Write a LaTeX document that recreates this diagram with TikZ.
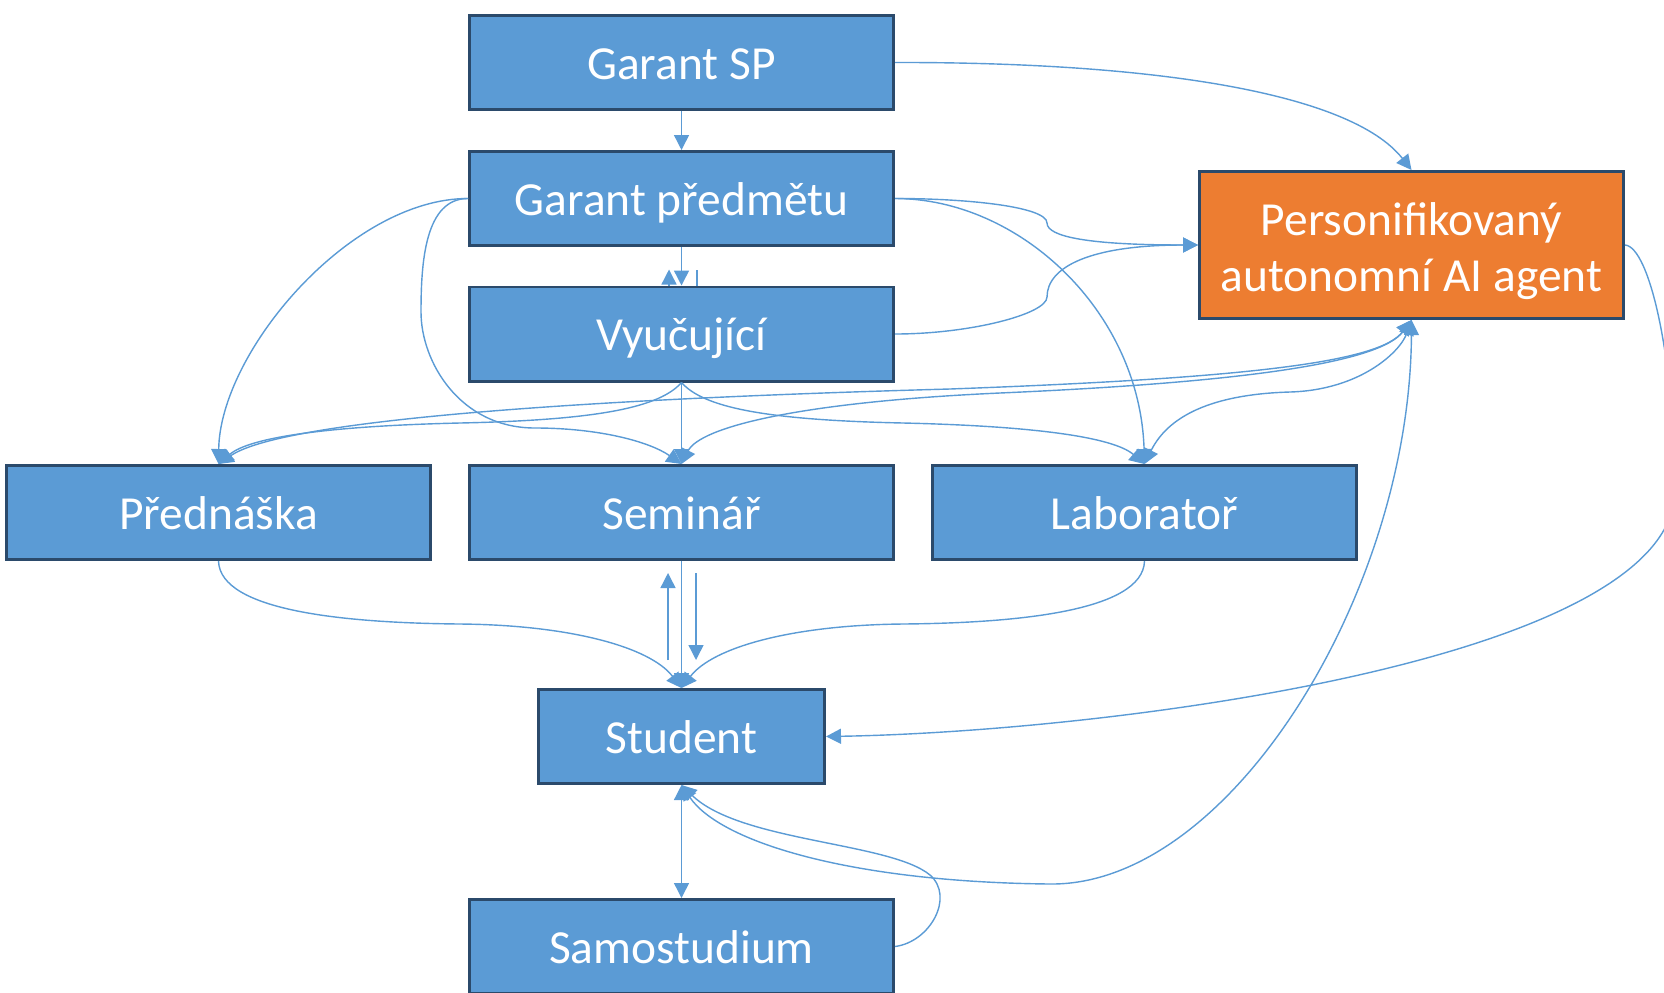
\documentclass[tikz,border=0pt]{standalone}
\usepackage{fontspec}
\setmainfont{Carlito}
\usetikzlibrary{arrows.meta}
\definecolor{boxblue}{HTML}{5B9BD5}
\definecolor{boxedge}{HTML}{2B4A6B}
\definecolor{agentorange}{HTML}{ED7D31}
\tikzstyle{box}=[draw=boxedge, fill=boxblue, line width=0.85pt, minimum width=4.24cm, minimum height=0.94cm, inner sep=0pt, text=white, font={\fontsize{13.5}{16}\selectfont}, align=center, text height=9.4pt, text depth=0pt]
\tikzstyle{agentbox}=[box, fill=agentorange, minimum height=1.47cm, text height=26.6pt, text depth=0pt]
\tikzstyle{link}=[draw=boxblue, line width=0.4pt, >={Triangle[length=1.5mm, width=1.5mm]}]

\begin{document}
\begin{tikzpicture}
	\useasboundingbox (0, 0) rectangle (16.64, 9.92);
	\clip (0, 0) rectangle (16.64, 9.92);

	\node[box] (gsp) at (6.815, 9.295) {Garant SP};
	\node[box] (gp) at (6.815, 7.935) {Garant předmětu};
	\node[box] (vyu) at (6.815, 6.58) {Vyučující};
	\node[agentbox] (agent) at (14.115, 7.47) {Personifikovaný\\autonomní AI agent};
	\node[box] (pred) at (2.185, 4.795) {Přednáška};
	\node[box] (sem) at (6.815, 4.795) {Seminář};
	\node[box] (lab) at (11.445, 4.795) {Laboratoř};
	\node[box, minimum width=2.86cm] (stud) at (6.815, 2.555) {Student};
	\node[box] (samo) at (6.815, 0.455) {Samostudium};

	% garant SP
	\draw[link, ->] (gsp.south) -- (gp.north);
	\draw[link, ->] (gsp.east) .. controls (11.5, 9.30) and (13.5, 9.0) .. (agent.north);

	% garant predmetu
	\draw[link, ->] (gp.south) -- (vyu.north);
	\draw[link, ->] ([xshift=-1.25mm]vyu.north) -- ++(0, 0.16);
	\draw[link] ([xshift=1.55mm]vyu.north) -- ++(0, 0.16);
	\draw[link, ->] (gp.east) .. controls (9.7, 7.935) and (10.47, 7.85) .. (10.47, 7.69) .. controls (10.47, 7.55) and (10.9, 7.47) .. (agent.west);
	\draw[link, ->] (gp.east) .. controls (10.2, 7.935) and (11.4, 6.8) .. (lab.north);
	\draw[link, ->] (gp.west) .. controls (3.5, 7.935) and (2.2, 6.4) .. (pred.north);
	\draw[link, ->] (gp.west) .. controls (4.25, 7.935) and (4.21, 7.3) .. (4.21, 6.8) .. controls (4.21, 6.3) and (4.6, 5.64) .. (5.35, 5.64) .. controls (6.0, 5.64) and (6.5, 5.5) .. (sem.north);

	% vyucujici
	\draw[link, ->] (vyu.east) .. controls (9.7, 6.58) and (10.47, 6.78) .. (10.47, 6.95) .. controls (10.47, 7.25) and (10.9, 7.47) .. (agent.west);
	\draw[link, ->] (vyu.south) -- (sem.north);
	\draw[link, ->] (vyu.south) .. controls (6.6, 5.85) and (6.0, 5.72) .. (4.6, 5.69) .. controls (3.3, 5.66) and (2.5, 5.55) .. (pred.north);
	\draw[link, ->] (vyu.south) .. controls (7.03, 5.85) and (7.63, 5.72) .. (9.03, 5.69) .. controls (10.33, 5.66) and (11.13, 5.55) .. (lab.north);

	% agent
	\draw[link, <->] (pred.north) .. controls (2.8, 5.7) and (5.5, 5.92) .. (9.5, 6.03) .. controls (12.5, 6.14) and (13.8, 6.3) .. (agent.south);
	\draw[link, <->] (sem.north) .. controls (7.0, 5.65) and (8.0, 5.9) .. (10.0, 5.99) .. controls (12.5, 6.1) and (13.8, 6.3) .. (agent.south);
	\draw[link, <->] (lab.north) .. controls (11.7, 5.8) and (12.2, 5.98) .. (12.9, 6.0) .. controls (13.6, 6.02) and (14.0, 6.4) .. (agent.south);
	\draw[link, <->] (stud.south) .. controls (7.2, 1.5) and (8.5, 1.1) .. (10.5, 1.08) .. controls (12.3, 1.06) and (14.1, 4.0) .. (agent.south);
	\draw[link, ->] (agent.east) .. controls (16.5, 7.45) and (16.75, 6.3) .. (16.75, 5.0) .. controls (16.7, 3.3) and (11.0, 2.6) .. (stud.east);

	% vyuka -> student
	\draw[link, ->] (pred.south) .. controls (2.2, 3.8) and (3.5, 3.69) .. (4.6, 3.68) .. controls (5.7, 3.67) and (6.5, 3.45) .. (stud.north);
	\draw[link, ->] (lab.south) .. controls (11.43, 3.8) and (10.13, 3.69) .. (9.03, 3.68) .. controls (7.93, 3.67) and (7.13, 3.45) .. (stud.north);
	\draw[link, ->] (sem.south) -- (stud.north);
	\draw[link, ->] ([xshift=-1.35mm, yshift=-9.9mm]sem.south) -- ([xshift=-1.35mm, yshift=-1.2mm]sem.south);
	\draw[link, ->] ([xshift=1.45mm, yshift=-1.2mm]sem.south) -- ([xshift=1.45mm, yshift=-9.9mm]sem.south);

	% student
	\draw[link, <->] (stud.south) -- (samo.north);
	\draw[link, ->] (samo.east) .. controls (9.3, 0.5) and (9.55, 0.95) .. (9.3, 1.17) .. controls (8.9, 1.5) and (7.4, 1.5) .. (stud.south);
\end{tikzpicture}
\end{document}
